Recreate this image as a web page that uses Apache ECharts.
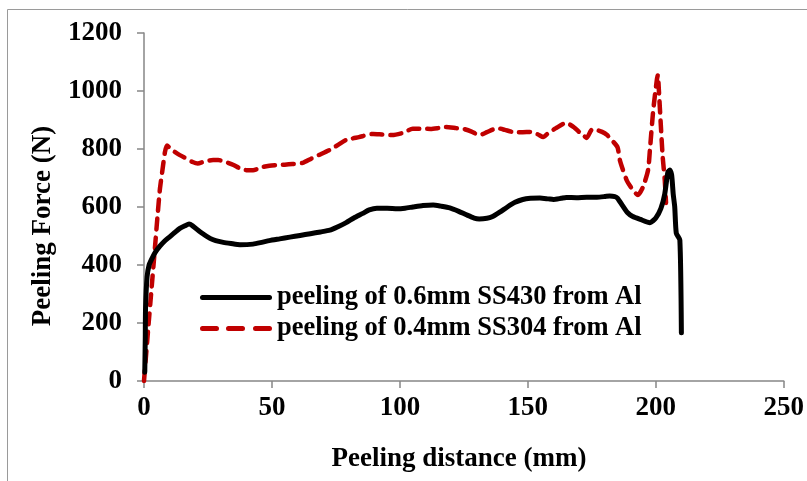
<!DOCTYPE html>
<html>
<head>
<meta charset="utf-8">
<script src="https://cdn.jsdelivr.net/npm/echarts@6/dist/echarts.min.js"></script>
<style>html,body{margin:0;padding:0;background:#fff}#c{width:807px;height:481px}</style>
</head>
<body>
<div id="c"></div>
<script>
var xTicks = [0, 50, 100, 150, 200, 250];
var yTicks = [0, 200, 400, 600, 800, 1000, 1200];
var seriesNames = ['peeling of 0.6mm SS430 from Al', 'peeling of 0.4mm SS304 from Al'];

var dist430 = [0.3,0.5,0.6,1.2,2,3,4.5,6.2,8,10,12,14,16,17.6,19,22,25.8,28,31,34,37.5,42.6,46,49,53,57,61,65,69,72.6,76,79,82,85.5,88,91,95,99,102,105,109,113,116,119.5,123,126,129,131,134,136,139,142,145,148,151,154.7,158,160,163,165,169,173,177,180,182,184,185,187,189,191,194,197.7,200,202,203.5,204.7,205.5,206.2,206.8,207.4,208,209.4,210];
var force430 = [30,150,250,359,400,420,445,465,482,497,512,526,535,541,535,514,492,484,478,474,470,472,478,484,490,496,502,508,514,520,533,546,562,578,590,596,596,594,596,600,605,607,603,597,585,573,562,559,561,566,582,600,616,626,630,631,628,626,630,633,632,634,634,636,638,636,631,605,580,567,557,546,562,595,645,720,728,710,645,600,510,486,166];

var dist304 = [0,1.6,3,4.3,5.2,6.2,7.4,8.2,9,10.5,12,14,17,19,21,24,27,29,32,35,37.5,40,42.6,46.5,49,52,55,58,62,65,67.5,72.6,76,79,84,89.5,93,97,101,105,109,112,115,118,122,125,128,131,134,138,141,144,148,151,154,156,158,161,165,168,170,172,173,175,177,179,181,182,185,186,188.6,191,193,195,197,197.7,199,200.4,200.8,201.2,202,202.7,203.5,204];
var force304 = [0,176,324,462,560,660,740,790,812,800,790,779,765,755,750,758,762,762,755,745,733,727,727,738,742,745,746,748,752,765,776,797,815,831,841,852,850,848,855,870,870,869,872,876,872,869,860,848,858,872,866,859,858,859,850,841,855,872,890,875,859,845,838,866,865,859,848,838,807,760,693,659,641,669,728,797,934,1038,1055,1003,876,772,693,614];

function pairs(xs, ys) { return xs.map(function (x, i) { return [x, ys[i]]; }); }

var FONT = '"Liberation Serif", "Times New Roman", serif';
var axisColor = '#868686';
var solidIcon = 'path://M2.5,0h67a2.5,2.5 0 0 1 0,5h-67a2.5,2.5 0 0 1 0,-5z';
var dashIcon = 'path://M2.5,0h14a2.5,2.5 0 0 1 0,5h-14a2.5,2.5 0 0 1 0,-5z M28.5,0h14a2.5,2.5 0 0 1 0,5h-14a2.5,2.5 0 0 1 0,-5z M55.5,0h14a2.5,2.5 0 0 1 0,5h-14a2.5,2.5 0 0 1 0,-5z';
var chart = echarts.init(document.getElementById('c'), null, {renderer: 'canvas'});
chart.setOption({
  animation: false,
  backgroundColor: '#fff',
  grid: {left: 144, right: 23, top: 33, bottom: 100, containLabel: false},
  xAxis: {
    type: 'value', min: xTicks[0], max: xTicks[xTicks.length - 1], interval: 50,
    splitLine: {show: false},
    axisLine: {lineStyle: {color: axisColor, width: 1.5}},
    axisTick: {show: true, length: 7, lineStyle: {color: axisColor, width: 1.5}},
    axisLabel: {margin: 14, color: '#000', fontFamily: FONT, fontWeight: 'bold', fontSize: 27,
      formatter: function (v) { return String(v); }}
  },
  yAxis: {
    type: 'value', min: yTicks[0], max: yTicks[yTicks.length - 1], interval: 200,
    splitLine: {show: false},
    axisLine: {show: true, lineStyle: {color: axisColor, width: 1.5}},
    axisTick: {show: true, length: 7, lineStyle: {color: axisColor, width: 1.5}},
    axisLabel: {margin: 22, color: '#000', fontFamily: FONT, fontWeight: 'bold', fontSize: 27,
      formatter: function (v) { return String(v); }}
  },
  legend: {
    orient: 'vertical', left: 200, top: 284, itemWidth: 72, itemHeight: 5, itemGap: 4, padding: 0,
    textStyle: {fontFamily: FONT, fontWeight: 'bold', fontSize: 26.5, color: '#000'},
    data: [
      {name: seriesNames[0], icon: solidIcon, itemStyle: {color: '#000'}},
      {name: seriesNames[1], icon: dashIcon, itemStyle: {color: '#C00000'}}
    ]
  },
  graphic: [
    {type: 'rect', shape: {x: 7.5, y: 9.5, width: 900, height: 600}, style: {fill: 'none', stroke: '#9a9a9a', lineWidth: 1}, z: -1},
    {type: 'text', x: 43, y: 226, rotation: Math.PI / 2, style: {text: 'Peeling Force (N)', fontFamily: FONT, fontWeight: 'bold', fontSize: 27, fill: '#000', align: 'center', verticalAlign: 'middle'}},
    {type: 'text', x: 459, y: 459, style: {text: 'Peeling distance (mm)', fontFamily: FONT, fontWeight: 'bold', fontSize: 27, fill: '#000', align: 'center', verticalAlign: 'middle'}}
  ],
  series: [
    {
      name: seriesNames[0], type: 'line', data: pairs(dist430, force430),
      showSymbol: false, symbol: 'none', smooth: 0.2,
      lineStyle: {color: '#000', width: 5, cap: 'round', join: 'round'},
      itemStyle: {color: '#000'}, z: 3
    },
    {
      name: seriesNames[1], type: 'line', data: pairs(dist304, force304),
      showSymbol: false, symbol: 'none', smooth: 0.2,
      lineStyle: {color: '#C00000', width: 4.5, type: [11, 8], cap: 'round', join: 'round'},
      itemStyle: {color: '#C00000'}, z: 2
    }
  ]
});
</script>
</body>
</html>
